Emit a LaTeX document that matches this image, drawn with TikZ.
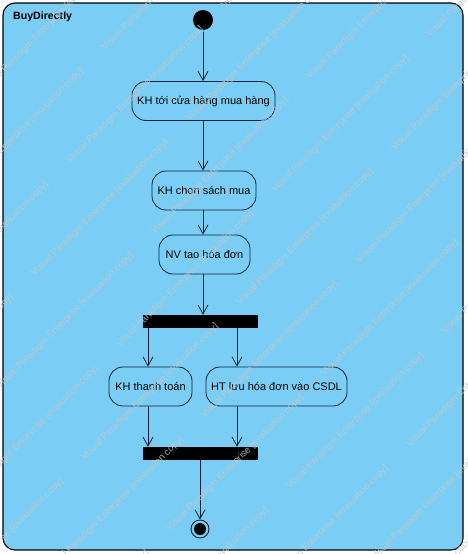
\documentclass[tikz,border=0pt]{standalone}
\usepackage{fontspec}
\setmainfont{Liberation Sans}
\usetikzlibrary{arrows.meta}
\definecolor{vpblue}{RGB}{122,206,245}
\definecolor{vpline}{RGB}{16,32,56}
\definecolor{wmgray}{RGB}{196,200,204}
\tikzset{
  action/.style={draw=vpline, line width=0.8pt, rounded corners=14pt, fill=vpblue,
    minimum height=39pt, inner sep=0pt, font=\fontsize{11}{13}\selectfont, text=black},
  syncbar/.style={fill=black, draw=none, inner sep=0pt, minimum height=13pt, minimum width=115pt},
  flow/.style={draw=vpline, line width=0.8pt, -{Straight Barb[length=9pt,width=10pt]}},
  wm/.style={rotate=45, text=wmgray, font=\fontsize{9.5}{10}\selectfont, inner sep=0pt},
  framebox/.style={draw=black, line width=1.1pt, fill=vpblue, rounded corners=12pt},
}
\begin{document}
\begin{tikzpicture}[x=1pt,y=-1pt]
\useasboundingbox (0,0) rectangle (468,554);
\fill[white] (0,0) rectangle (468,554);
% frame
\draw[framebox] (3,3) rectangle (463,550);
\node[anchor=west, font=\bfseries\fontsize{10.6}{12}\selectfont, inner sep=0pt] (title) at (13,17) {BuyDirectly};
% nodes
\node[circle, fill=black, minimum size=20pt, inner sep=0pt] (init) at (203,20) {};
\node[action, minimum width=143pt] (a1) at (203.5,101) {KH tới cửa hàng mua hàng};
\node[action, minimum width=104pt] (a2) at (204,190.5) {KH chon sách mua};
\node[action, minimum width=91pt] (a3) at (204.5,254.5) {NV tao hóa đơn};
\node[syncbar] (fork) at (200.5,321.5) {};
\node[action, minimum width=83pt] (a4) at (150.5,386.5) {KH thanh toán};
\node[action, minimum width=141pt] (a5) at (276.5,386.5) {HT lưu hóa đơn vào CSDL};
\node[syncbar] (join) at (200.5,453.5) {};
\node[circle, draw=vpline, line width=0.9pt, minimum size=18pt, inner sep=0pt] (final) at (200,529) {};
\node[circle, fill=black, minimum size=12pt, inner sep=0pt] (finalin) at (final) {};
% x positions of connectors
\coordinate (xm) at (203,0);
\coordinate (xl) at (148,0);
\coordinate (xr) at (237,0);
\coordinate (xj) at (200,0);
% connectors
\draw[flow] (init.south -| xm) -- (a1.north -| xm);
\draw[flow] (a1.south -| xm) -- (a2.north -| xm);
\draw[flow] (a2.south -| xm) -- (a3.north -| xm);
\draw[flow] (a3.south -| xm) -- (fork.north -| xm);
\draw[flow] (fork.south -| xl) -- (a4.north -| xl);
\draw[flow] (fork.south -| xr) -- (a5.north -| xr);
\draw[flow] (a4.south -| xl) -- (join.north -| xl);
\draw[flow] (a5.south -| xr) -- (join.north -| xr);
\draw[flow] (join.south -| xj) -- (final.north -| xj);
% watermark
\begin{scope}
\clip (0,0) rectangle (468,554);
\foreach \r in {-5,...,11}{
  \foreach \c in {-4,...,8}{
    \node[wm, opacity=0.85] at ({135-35*\r+155*\c},{95+113*\r-155*\c}) {Visual Paradigm Enterprise [evaluation copy]};
  }
}
\end{scope}
\end{tikzpicture}
\end{document}
